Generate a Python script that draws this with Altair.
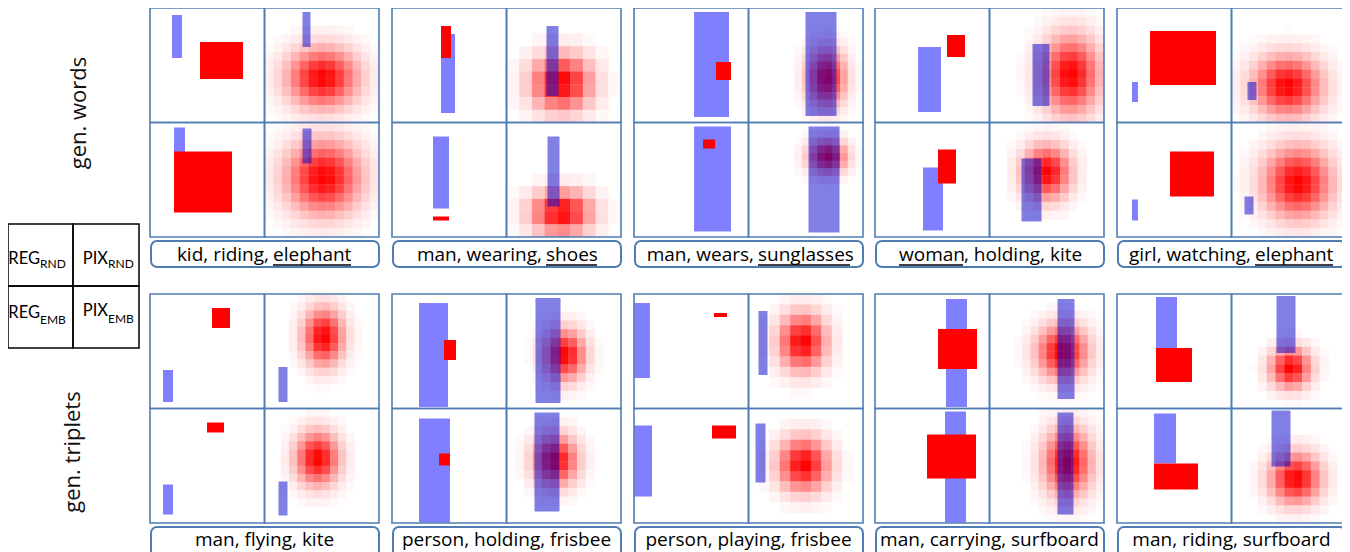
import math
import altair as alt
import pandas as pd

# ---------------- data ----------------
cap_before = ["kid, riding,", "man, wearing,", "man, wears,", "", "girl, watching,",
              "man, flying, kite", "person, holding, frisbee", "person, playing, frisbee",
              "man, carrying, surfboard", "man, riding, surfboard"]
cap_under = ["elephant", "shoes", "sunglasses", "woman", "elephant", "", "", "", "", ""]
cap_after = ["", "", "", ", holding, kite", "", "", "", "", "", ""]

row_titles = ["gen. words", "gen. triplets"]
legend_main = ["REG", "PIX", "REG", "PIX"]
legend_sub = ["RND", "RND", "EMB", "EMB"]

# boxes in cell units (0..114.5): [x0, x1, y0, y1]
reg_rnd_subj = [[22, 32, 7, 50], [49, 63, 26, 105], [60, 95, 4, 109], [43, 66, 39, 104], [15, 21, 74, 94],
                [13, 23, 76, 108], [27, 56, 9, 113], [0, 16, 9, 84], [71, 92, 5, 113], [39, 60, 3, 54]]
reg_rnd_obj = [[50, 93, 34, 71], [49, 59, 18, 50], [82, 97, 54, 72], [72, 90, 27, 49], [33, 99, 23, 77],
               [62, 80, 14, 34], [52, 64, 46, 66], [80, 93, 19, 23], [63, 102, 35, 75], [39, 75, 54, 88]]
reg_emb_subj = [[24, 35, 5, 30], [41, 57, 14, 86], [60, 97, 4, 109], [48, 68, 45, 108], [15, 21, 77, 98],
                [13, 23, 76, 106], [27, 58, 10, 114], [0, 18, 17, 88], [70, 91, 3, 114], [37, 59, 5, 55]]
reg_emb_obj = [[24, 82, 29, 90], [41, 57, 94, 98], [69, 81, 17, 26], [63, 81, 27, 61], [53, 97, 29, 74],
               [57, 74, 14, 24], [47, 58, 45, 57], [78, 102, 17, 30], [52, 101, 26, 70], [37, 81, 55, 81]]
pix_rnd_subj = [[38, 46, 4, 39], [40, 52, 18, 88], [57, 88, 4, 108], [43, 60, 36, 98], [16, 25, 74, 92],
                [14, 23, 73, 108], [29, 54, 4, 109], [10, 19, 17, 81], [68, 85, 5, 105], [45, 64, 2, 59]]
pix_emb_subj = [[38, 47, 6, 41], [41, 53, 14, 84], [60, 91, 4, 110], [32, 52, 36, 99], [13, 22, 74, 92],
                [14, 23, 73, 107], [28, 53, 4, 103], [7, 17, 15, 74], [68, 84, 4, 106], [40, 59, 2, 58]]
# heat-map blobs: [centre x, centre y, spread x, spread y]
pix_rnd_heat = [[58, 70, 21, 18], [55, 75, 18, 17], [78, 70, 11, 17], [81, 67, 17, 23], [56, 78, 20, 18],
                [59, 43, 12, 17], [58, 61, 12, 15], [54, 48, 14, 17], [73, 58, 15, 16], [59, 74, 12, 12]]
pix_emb_heat = [[59, 55, 22, 22], [55, 90, 18, 13], [79, 34, 11, 10], [57, 50, 14, 16], [66, 60, 20, 21],
                [53, 50, 13, 16], [49, 52, 13, 15], [55, 56, 15, 16], [78, 54, 14, 20], [64, 70, 15, 15]]
heat_grid = [13, 9, 15, 13, 13, 14, 13, 11, 14, 13]

# ---------------- layout ----------------
PX = [150, 392, 634, 875, 1117]
PY = [8, 294]
CW = 114.5
BORDER = "#4f7db3"
FONT = "Open Sans"
LFONT = "Lato"

rects = []


def add_box(ox, oy, b, fill, op):
    rects.append(dict(x=ox + b[0], x2=ox + b[1], y=oy + b[2], y2=oy + b[3], fill=fill, op=op))


def add_heat(ox, oy, h, n):
    step = CW / n
    for i in range(n):
        for j in range(n):
            cx = (i + 0.5) * step
            cy = (j + 0.5) * step
            a = math.exp(-0.5 * ((cx - h[0]) / h[2]) ** 2 - 0.5 * ((cy - h[1]) / h[3]) ** 2)
            a = a ** 0.8
            if a < 0.02:
                continue
            g = int(round(255 * (1 - a)))
            col = "#ff%02x%02x" % (g, g)
            rects.append(dict(x=ox + i * step, x2=min(ox + (i + 1) * step + 0.4, ox + CW),
                              y=oy + j * step, y2=min(oy + (j + 1) * step + 0.4, oy + CW),
                              fill=col, op=1.0))


cells = []
labels_r, labels_l, labels_c, ulines = [], [], [], []
ul_span = {0: (273, 351), 1: (546, 597), 2: (758, 850), 3: (899, 963), 4: (1255, 1333)}
label_boxes = []

for p in range(10):
    px = PX[p % 5]
    py = PY[p // 5]
    add_box(px, py, reg_rnd_subj[p], "#0000ff", 0.5)
    add_box(px, py, reg_rnd_obj[p], "#ff0000", 1.0)
    add_heat(px + CW, py, pix_rnd_heat[p], heat_grid[p])
    add_box(px + CW, py, pix_rnd_subj[p], "#0000cd", 0.5)
    add_box(px, py + CW, reg_emb_subj[p], "#0000ff", 0.5)
    add_box(px, py + CW, reg_emb_obj[p], "#ff0000", 1.0)
    add_heat(px + CW, py + CW, pix_emb_heat[p], heat_grid[p])
    add_box(px + CW, py + CW, pix_emb_subj[p], "#0000cd", 0.5)
    for cx in (0, 1):
        for cy in (0, 1):
            cells.append(dict(x=px + cx * CW, x2=px + (cx + 1) * CW, y=py + cy * CW, y2=py + (cy + 1) * CW))
    if p < 5:
        label_boxes.append(dict(x=px + 1, x2=px + 229, y=241, y2=267))
        base = 261
    else:
        label_boxes.append(dict(x=px + 1, x2=px + 229, y=527, y2=560))
        base = 546
    if cap_under[p]:
        u0, u1 = ul_span[p]
        if cap_before[p]:
            labels_r.append(dict(x=u0 - 4, y=base, t=cap_before[p]))
        labels_l.append(dict(x=u0, y=base, t=cap_under[p]))
        if cap_after[p]:
            labels_l.append(dict(x=u1 + 1, y=base, t=cap_after[p]))
        ulines.append(dict(x=u0, x2=u1, y=base + 4))
    else:
        labels_c.append(dict(x=px + CW, y=base, t=cap_before[p]))

XS = alt.Scale(domain=[8, 1342], range=[0, 1334], zero=False, nice=False)
YS = alt.Scale(domain=[8, 552], range=[0, 544], zero=False, nice=False)


def X(f="x"):
    return alt.X(f + ":Q", scale=XS, axis=None)


def Y(f="y"):
    return alt.Y(f + ":Q", scale=YS, axis=None)


rect_layer = alt.Chart(pd.DataFrame(rects)).mark_rect(strokeWidth=0).encode(
    x=X(), x2="x2", y=Y(), y2="y2",
    color=alt.Color("fill:N", scale=None), opacity=alt.Opacity("op:Q", scale=None))

cell_layer = alt.Chart(pd.DataFrame(cells)).mark_rect(
    fillOpacity=0, stroke=BORDER, strokeWidth=1.6).encode(x=X(), x2="x2", y=Y(), y2="y2")

box_layer = alt.Chart(pd.DataFrame(label_boxes)).mark_rect(
    fillOpacity=0, stroke=BORDER, strokeWidth=2, cornerRadius=6).encode(x=X(), x2="x2", y=Y(), y2="y2")

txt_kw = dict(font=FONT, fontSize=19, color="#000000", baseline="alphabetic")
lab_r = alt.Chart(pd.DataFrame(labels_r)).mark_text(align="right", **txt_kw).encode(x=X(), y=Y(), text="t:N")
lab_l = alt.Chart(pd.DataFrame(labels_l)).mark_text(align="left", **txt_kw).encode(x=X(), y=Y(), text="t:N")
lab_c = alt.Chart(pd.DataFrame(labels_c)).mark_text(align="center", **txt_kw).encode(x=X(), y=Y(), text="t:N")
ul_layer = alt.Chart(pd.DataFrame(ulines)).mark_rule(color="#000000", strokeWidth=1.6).encode(
    x=X(), x2="x2", y=Y())

leg_cells = []
for cx, (a, b) in enumerate([(8, 73), (73, 139)]):
    for cy, (c, d) in enumerate([(224, 286), (286, 348)]):
        leg_cells.append(dict(x=a, x2=b, y=c, y2=d))
leg_layer = alt.Chart(pd.DataFrame(leg_cells)).mark_rect(
    fillOpacity=0, stroke="#000000", strokeWidth=1.5).encode(x=X(), x2="x2", y=Y(), y2="y2")
split_x = [40, 108, 40, 108]
main_y = [264, 264, 318, 316]
sub_y = [268, 268, 324, 323]
leg_main = pd.DataFrame(dict(x=split_x, y=main_y, t=legend_main))
leg_sub = pd.DataFrame(dict(x=split_x, y=sub_y, t=legend_sub))
leg_m = alt.Chart(leg_main).mark_text(align="right", font=LFONT, fontSize=16.5, baseline="alphabetic",
                                      color="#000000").encode(x=X(), y=Y(), text="t:N")
leg_s = alt.Chart(leg_sub).mark_text(align="left", font=LFONT, fontSize=12, baseline="alphabetic",
                                     color="#000000").encode(x=X(), y=Y(), text="t:N")

rows = pd.DataFrame(dict(x=[79, 73], y=[113, 452], t=row_titles))
row_layer = alt.Chart(rows).mark_text(angle=270, align="center", baseline="middle", font=FONT,
                                      fontSize=22, color="#111111").encode(x=X(), y=Y(), text="t:N")

chart = alt.layer(rect_layer, cell_layer, box_layer, lab_r, lab_l, lab_c, ul_layer,
                  leg_layer, leg_m, leg_s, row_layer).properties(
    width=1334, height=544, padding=0, autosize=alt.AutoSizeParams(type="none"),
    background="white").configure_view(stroke=None)

chart.save("out.html", embed_options={"renderer": "svg", "actions": False})
